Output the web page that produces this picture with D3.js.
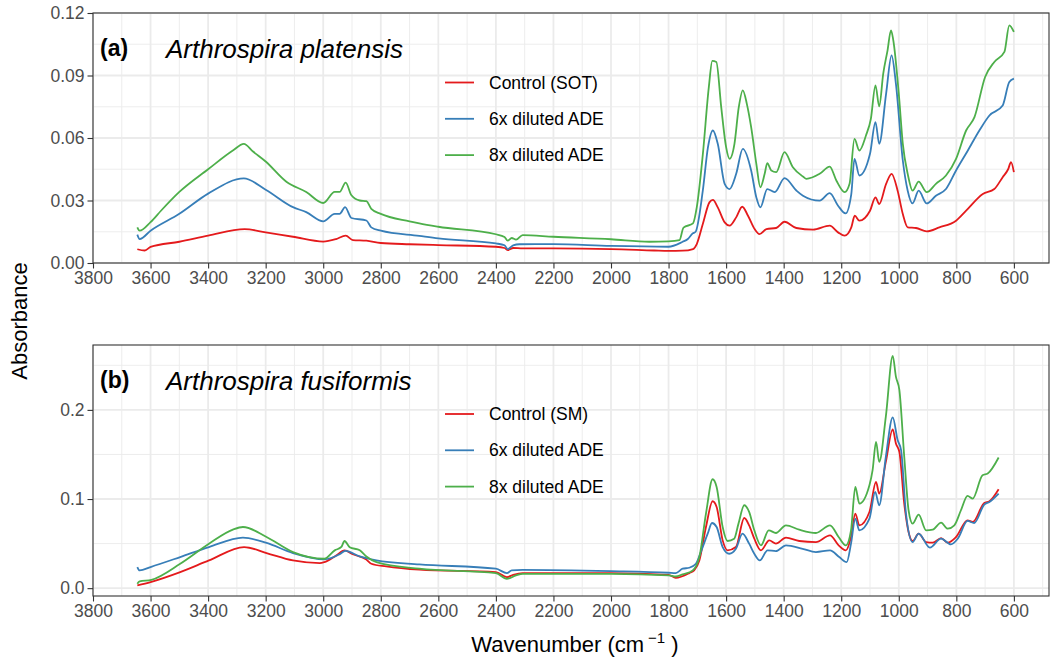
<!DOCTYPE html>
<html><head><meta charset="utf-8">
<script src="https://cdn.jsdelivr.net/npm/d3@7"></script>
<style>body{margin:0;background:#fff}svg{display:block;font-family:"Liberation Sans",Arial,sans-serif}</style>
</head><body><svg id="c" width="1051" height="661"></svg>
<script>
// ---- data (wavenumber cm^-1, absorbance) ----
const xTicks = [3800,3600,3400,3200,3000,2800,2600,2400,2200,2000,1800,1600,1400,1200,1000,800,600];
const xMinor = [3700,3500,3300,3100,2900,2700,2500,2300,2100,1900,1700,1500,1300,1100,900,700,500];
const yTicksA = [0,0.03,0.06,0.09,0.12];
const yTickLabelsA = ["0.00","0.03","0.06","0.09","0.12"];
const yMinorA = [0.015,0.045,0.075,0.105];
const yTicksB = [0,0.1,0.2];
const yTickLabelsB = ["0.0","0.1","0.2"];
const yMinorB = [0.05,0.15,0.25];
const seriesNamesA = ["Control (SOT)","6x diluted ADE","8x diluted ADE"];
const seriesNamesB = ["Control (SM)","6x diluted ADE","8x diluted ADE"];
const colors = ["#E41A1C","#377EB8","#4DAF4A"];

const platControl = [[3646,0.0066],[3620,0.0060],[3600,0.0077],[3500,0.0102],[3400,0.0131],[3273,0.0163],[3200,0.0147],[3105,0.0126],[3000,0.0103],[2955,0.0115],[2922,0.0131],[2897,0.0110],[2850,0.0107],[2800,0.0096],[2700,0.0090],[2600,0.0086],[2400,0.0078],[2370,0.0072],[2358,0.0062],[2340,0.0072],[2307,0.0070],[2200,0.0070],[2000,0.0067],[1850,0.0060],[1800,0.0058],[1751,0.0059],[1715,0.0067],[1702,0.0091],[1681,0.0187],[1658,0.0291],[1646,0.0303],[1629,0.0267],[1605,0.0195],[1588,0.0179],[1565,0.0219],[1544,0.0270],[1524,0.0227],[1501,0.0163],[1484,0.0139],[1460,0.0163],[1426,0.0168],[1397,0.0198],[1356,0.0168],[1298,0.0160],[1240,0.0179],[1211,0.0147],[1188,0.0131],[1165,0.0171],[1153,0.0227],[1137,0.0203],[1100,0.0251],[1081,0.0315],[1068,0.0283],[1044,0.0380],[1025,0.0428],[1004,0.0347],[986,0.0235],[969,0.0171],[940,0.0168],[903,0.0152],[859,0.0171],[801,0.0203],[766,0.0251],[708,0.0331],[668,0.0355],[639,0.0412],[620,0.0450],[610,0.0484],[600,0.0436]];
const plat6x = [[3646,0.0136],[3638,0.0115],[3600,0.0155],[3500,0.0236],[3400,0.0333],[3276,0.0406],[3200,0.0352],[3105,0.0268],[3059,0.0244],[3000,0.0200],[2960,0.0236],[2943,0.0236],[2924,0.0268],[2902,0.0216],[2850,0.0204],[2833,0.0171],[2800,0.0155],[2666,0.0130],[2600,0.0118],[2400,0.0094],[2370,0.0085],[2359,0.0067],[2340,0.0085],[2318,0.0090],[2200,0.0091],[2000,0.0082],[1800,0.0078],[1751,0.0102],[1733,0.0115],[1716,0.0142],[1706,0.0150],[1681,0.0347],[1663,0.0556],[1646,0.0636],[1629,0.0572],[1605,0.0380],[1588,0.0355],[1565,0.0428],[1542,0.0548],[1513,0.0444],[1495,0.0315],[1481,0.0267],[1457,0.0355],[1431,0.0340],[1397,0.0407],[1356,0.0348],[1333,0.0323],[1275,0.0299],[1240,0.0335],[1211,0.0275],[1185,0.0238],[1165,0.0331],[1154,0.0500],[1137,0.0420],[1100,0.0524],[1081,0.0676],[1068,0.0572],[1044,0.0813],[1025,0.0997],[1010,0.0861],[986,0.0492],[969,0.0347],[952,0.0286],[931,0.0347],[903,0.0286],[871,0.0323],[836,0.0355],[801,0.0444],[760,0.0540],[720,0.0636],[685,0.0708],[639,0.0756],[616,0.0869],[600,0.0885]];
const plat8x = [[3646,0.0171],[3638,0.0155],[3600,0.0196],[3563,0.0252],[3500,0.0341],[3400,0.0450],[3314,0.0540],[3276,0.0572],[3244,0.0535],[3200,0.0487],[3128,0.0390],[3059,0.0341],[3000,0.0288],[2960,0.0341],[2943,0.0341],[2922,0.0386],[2902,0.0325],[2873,0.0300],[2850,0.0297],[2833,0.0260],[2800,0.0236],[2700,0.0200],[2666,0.0190],[2600,0.0174],[2400,0.0138],[2370,0.0125],[2359,0.0107],[2345,0.0120],[2330,0.0112],[2307,0.0134],[2200,0.0126],[2000,0.0114],[1867,0.0102],[1800,0.0104],[1762,0.0110],[1748,0.0170],[1715,0.0190],[1702,0.0267],[1681,0.0520],[1660,0.0845],[1648,0.0970],[1634,0.0965],[1617,0.0748],[1600,0.0556],[1588,0.0500],[1571,0.0572],[1556,0.0748],[1542,0.0829],[1528,0.0764],[1513,0.0652],[1495,0.0476],[1481,0.0363],[1466,0.0428],[1457,0.0479],[1443,0.0444],[1426,0.0436],[1397,0.0532],[1368,0.0460],[1333,0.0415],[1321,0.0404],[1275,0.0428],[1240,0.0463],[1217,0.0396],[1188,0.0340],[1171,0.0380],[1154,0.0596],[1137,0.0540],[1114,0.0612],[1097,0.0692],[1081,0.0853],[1068,0.0752],[1054,0.0909],[1039,0.1021],[1027,0.1117],[1019,0.1069],[1000,0.0813],[986,0.0572],[969,0.0428],[952,0.0347],[931,0.0391],[903,0.0340],[871,0.0380],[836,0.0420],[801,0.0500],[766,0.0636],[737,0.0700],[700,0.0893],[668,0.0965],[633,0.1013],[616,0.1141],[600,0.1109]];

const fusiControl = [[3646,0.0030],[3600,0.0068],[3497,0.0180],[3397,0.0311],[3275,0.0461],[3197,0.0394],[3105,0.0311],[3012,0.0281],[2996,0.0292],[2955,0.0367],[2926,0.0424],[2897,0.0380],[2850,0.0320],[2833,0.0274],[2781,0.0244],[2666,0.0207],[2400,0.0180],[2362,0.0124],[2340,0.0150],[2307,0.0169],[2000,0.0169],[1800,0.0150],[1775,0.0116],[1728,0.0169],[1711,0.0200],[1693,0.0311],[1670,0.0686],[1647,0.0975],[1633,0.0911],[1612,0.0536],[1595,0.0424],[1566,0.0461],[1537,0.0787],[1520,0.0705],[1502,0.0555],[1479,0.0424],[1450,0.0536],[1427,0.0499],[1392,0.0566],[1346,0.0529],[1288,0.0517],[1239,0.0592],[1209,0.0480],[1184,0.0424],[1166,0.0574],[1151,0.0836],[1137,0.0705],[1102,0.0855],[1079,0.1192],[1068,0.1061],[1045,0.1417],[1021,0.1781],[1010,0.1624],[998,0.1530],[981,0.0949],[966,0.0630],[952,0.0529],[931,0.0611],[905,0.0517],[882,0.0510],[853,0.0562],[830,0.0510],[801,0.0574],[761,0.0761],[743,0.0742],[703,0.0956],[685,0.0975],[653,0.1110]];
const fusi6x = [[3646,0.0237],[3638,0.0199],[3600,0.0237],[3497,0.0349],[3397,0.0461],[3279,0.0567],[3197,0.0507],[3105,0.0394],[2996,0.0323],[2943,0.0380],[2923,0.0418],[2873,0.0356],[2815,0.0311],[2666,0.0267],[2400,0.0218],[2362,0.0169],[2345,0.0200],[2307,0.0206],[2000,0.0191],[1800,0.0173],[1775,0.0169],[1751,0.0218],[1728,0.0229],[1705,0.0274],[1688,0.0405],[1664,0.0611],[1649,0.0731],[1633,0.0686],[1612,0.0461],[1589,0.0386],[1566,0.0442],[1543,0.0611],[1520,0.0499],[1502,0.0386],[1483,0.0311],[1456,0.0424],[1427,0.0416],[1392,0.0480],[1334,0.0442],[1288,0.0405],[1239,0.0424],[1207,0.0349],[1181,0.0292],[1166,0.0499],[1151,0.0780],[1137,0.0649],[1102,0.0780],[1082,0.1080],[1068,0.0930],[1045,0.1474],[1021,0.1916],[1004,0.1661],[992,0.1549],[975,0.0836],[952,0.0517],[931,0.0611],[892,0.0454],[853,0.0555],[819,0.0491],[795,0.0555],[761,0.0754],[738,0.0731],[703,0.0937],[685,0.0967],[653,0.1061]];
const fusi8x = [[3646,0.0050],[3638,0.0077],[3597,0.0094],[3497,0.0274],[3397,0.0499],[3314,0.0657],[3279,0.0686],[3197,0.0574],[3105,0.0405],[2996,0.0330],[2960,0.0424],[2937,0.0462],[2926,0.0529],[2908,0.0460],[2873,0.0424],[2850,0.0356],[2815,0.0293],[2666,0.0218],[2400,0.0169],[2362,0.0105],[2330,0.0143],[2307,0.0161],[2000,0.0161],[1800,0.0143],[1775,0.0131],[1751,0.0154],[1716,0.0199],[1693,0.0349],[1670,0.0836],[1647,0.1222],[1633,0.1136],[1612,0.0686],[1595,0.0529],[1572,0.0555],[1557,0.0724],[1537,0.0930],[1520,0.0855],[1502,0.0649],[1479,0.0480],[1452,0.0649],[1427,0.0619],[1392,0.0705],[1346,0.0656],[1288,0.0619],[1239,0.0705],[1209,0.0574],[1184,0.0480],[1166,0.0649],[1151,0.1136],[1137,0.0949],[1102,0.1155],[1091,0.1324],[1079,0.1642],[1068,0.1417],[1045,0.1924],[1021,0.2606],[1010,0.2373],[998,0.2224],[981,0.1474],[966,0.0874],[952,0.0724],[931,0.0825],[905,0.0649],[882,0.0656],[853,0.0735],[830,0.0667],[807,0.0705],[784,0.0874],[761,0.1035],[743,0.1005],[709,0.1267],[691,0.1286],[653,0.1466]];

// ---- layout ----
const svg = d3.select("#c");
const L = 93, R = 1049;
const x = d3.scaleLinear().domain([3800, 478]).range([L, R]);
const FONT_TICK = 17.5;

function panel(cfg) {
  const y = d3.scaleLinear().domain(cfg.yDomain).range([cfg.bottom, cfg.top]);
  const g = svg.append("g");
  // minor grid
  g.selectAll(".vm").data(xMinor.filter(v => v <= 3800 && v >= 478)).join("line")
    .attr("x1", d => x(d)).attr("x2", d => x(d)).attr("y1", cfg.top).attr("y2", cfg.bottom)
    .attr("stroke", "#EBEBEB").attr("stroke-width", 0.9);
  g.selectAll(".hm").data(cfg.yMinor).join("line")
    .attr("y1", d => y(d)).attr("y2", d => y(d)).attr("x1", L).attr("x2", R)
    .attr("stroke", "#EBEBEB").attr("stroke-width", 0.9);
  // major grid
  g.selectAll(".vM").data(xTicks).join("line")
    .attr("x1", d => x(d)).attr("x2", d => x(d)).attr("y1", cfg.top).attr("y2", cfg.bottom)
    .attr("stroke", "#EBEBEB").attr("stroke-width", 1.8);
  g.selectAll(".hM").data(cfg.yTicks).join("line")
    .attr("y1", d => y(d)).attr("y2", d => y(d)).attr("x1", L).attr("x2", R)
    .attr("stroke", "#EBEBEB").attr("stroke-width", 1.8);

  // lines
  const clipId = "clip" + cfg.id;
  svg.append("clipPath").attr("id", clipId).append("rect")
    .attr("x", L).attr("y", cfg.top).attr("width", R - L).attr("height", cfg.bottom - cfg.top);
  const line = d3.line().x(d => x(d[0])).y(d => y(d[1])).curve(d3.curveMonotoneX);
  const lg = g.append("g").attr("clip-path", `url(#${clipId})`);
  cfg.series.forEach((s, i) => {
    lg.append("path").datum(s).attr("d", line).attr("fill", "none")
      .attr("stroke", colors[i]).attr("stroke-width", 1.8).attr("stroke-linejoin", "round");
  });

  // border
  g.append("rect").attr("x", L).attr("y", cfg.top).attr("width", R - L).attr("height", cfg.bottom - cfg.top)
    .attr("fill", "none").attr("stroke", "#333333").attr("stroke-width", 1.1);

  // axes
  const ax = d3.axisBottom(x).tickValues(xTicks).tickSize(5.5).tickPadding(3).tickFormat(d3.format("d"));
  const gx = g.append("g").attr("transform", `translate(0,${cfg.bottom})`).call(ax);
  const ay = d3.axisLeft(y).tickValues(cfg.yTicks).tickSize(5.5).tickPadding(3)
    .tickFormat((d, i) => cfg.yLabels[i]);
  const gy = g.append("g").attr("transform", `translate(${L},0)`).call(ay);
  [gx, gy].forEach(a => {
    a.select(".domain").remove();
    a.selectAll(".tick line").attr("stroke", "#333333").attr("stroke-width", 1.1);
    a.selectAll(".tick text").attr("fill", "#4D4D4D").style("font-size", FONT_TICK + "px")
      .style("font-family", "'Liberation Sans', Arial, sans-serif");
  });

  // panel label and title
  g.append("text").attr("x", 100).attr("y", cfg.top + 43).text(cfg.tag)
    .style("font-weight", "bold").style("font-size", "23px").attr("fill", "#000");
  g.append("text").attr("x", 166).attr("y", cfg.top + 45).text(cfg.title)
    .style("font-style", "italic").style("font-size", "26px").attr("fill", "#000");

  // legend
  cfg.names.forEach((n, i) => {
    const yy = cfg.legendY + i * 36.3;
    g.append("line").attr("x1", 445).attr("x2", 474).attr("y1", yy).attr("y2", yy)
      .attr("stroke", colors[i]).attr("stroke-width", 1.8);
    g.append("text").attr("x", 489).attr("y", yy).attr("dy", "0.35em").text(n)
      .style("font-size", FONT_TICK + "px").attr("fill", "#000");
  });
}

panel({ id: "a", top: 13, bottom: 263, yDomain: [0, 0.12], yTicks: yTicksA, yLabels: yTickLabelsA, yMinor: yMinorA,
  series: [platControl, plat6x, plat8x], names: seriesNamesA, tag: "(a)", title: "Arthrospira platensis", legendY: 82.5 });
panel({ id: "b", top: 345, bottom: 596, yDomain: [-0.0088, 0.2728], yTicks: yTicksB, yLabels: yTickLabelsB, yMinor: yMinorB,
  series: [fusiControl, fusi6x, fusi8x], names: seriesNamesB, tag: "(b)", title: "Arthrospira fusiformis", legendY: 414 });

// axis titles
svg.append("text").attr("transform", "translate(27,321) rotate(-90)").attr("text-anchor", "middle")
  .style("font-size", "22px").attr("fill", "#000").text("Absorbance");
const xt = svg.append("text").attr("x", 575).attr("y", 652).attr("text-anchor", "middle")
  .style("font-size", "22px").attr("fill", "#000");
xt.append("tspan").text("Wavenumber (cm");
xt.append("tspan").attr("dx", 4).attr("dy", -9).style("font-size", "15px").text("\u22121");
xt.append("tspan").attr("dy", 9).text(" )");
</script></body></html>
